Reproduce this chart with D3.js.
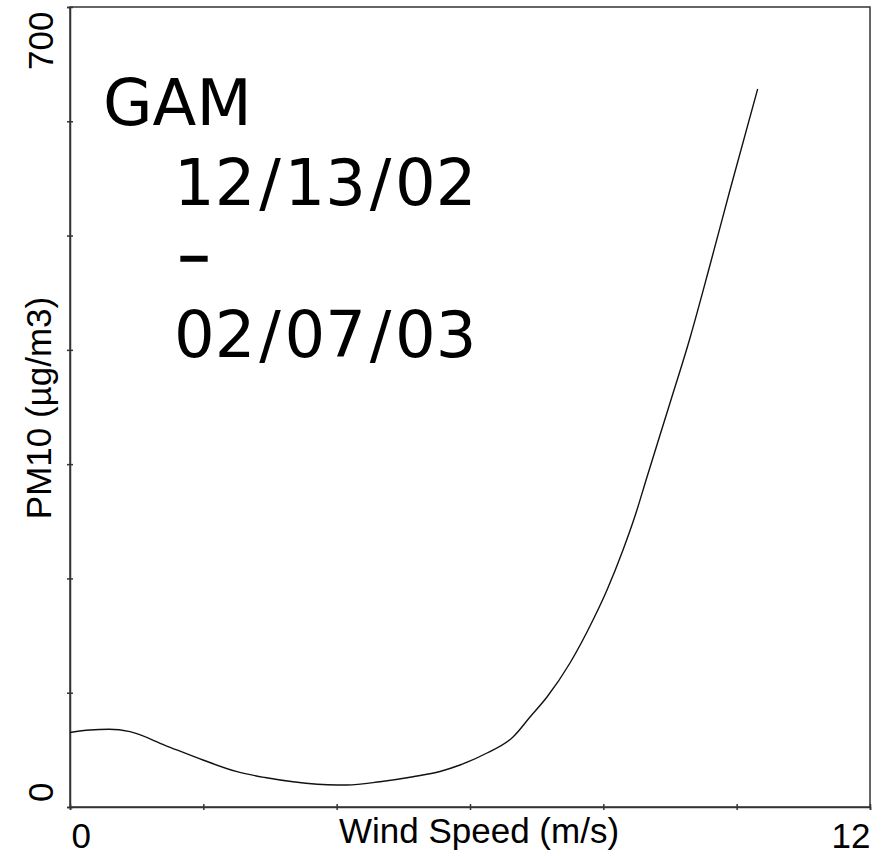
<!DOCTYPE html>
<html>
<head>
<meta charset="utf-8">
<script src="https://cdn.jsdelivr.net/npm/d3@7"></script>
<style>
  html, body { margin: 0; padding: 0; background: #fff; }
  svg { display: block; }
</style>
</head>
<body>
<svg id="chart" width="888" height="856"></svg>
<script>
// GAM smooth of PM10 against wind speed
const windSpeed = [0.0, 0.3, 0.585, 0.9, 1.425, 1.995, 2.505, 2.925, 3.345, 4.005, 4.155, 4.65, 5.145, 5.55, 5.85, 6.255, 6.645, 6.9, 7.155, 7.5, 7.845, 8.055, 8.295, 8.475, 8.655, 9.0, 9.3, 9.6, 9.9, 10.315];
const pm10 =      [65.2, 67.4, 68.0, 65.9, 54.0, 41.1, 30.9, 25.8, 22.1, 19.25, 19.25, 22.1, 26.5, 31.1, 36.75, 47.25, 61.25, 78.75, 96.25, 126, 163.6, 189.9, 224.9, 254.6, 288.75, 353.5, 410.4, 474.25, 539.9, 628.25];

const xTicks = [0, 2, 4, 6, 8, 10, 12];
const yTicks = [0, 100, 200, 300, 400, 500, 600, 700];
const xDomain = [0, 12];
const yDomain = [0, 700];
const xTitle = "Wind Speed (m/s)";
const yTitle = "PM10 (\u00b5g/m3)";
const noteLines = ["GAM", "12/13/02", "\u2013", "02/07/03"];

const svg = d3.select("#chart");
const plotL = 70, plotR = 870, plotT = 7, plotB = 807;

const x = d3.scaleLinear().domain(xDomain).range([plotL, plotR]);
const y = d3.scaleLinear().domain(yDomain).range([plotB, plotT]);

const axisFont = "'Liberation Sans', Arial, sans-serif";
const ink = "#333";

// frame
svg.append("rect")
  .attr("x", plotL).attr("y", plotT)
  .attr("width", plotR - plotL).attr("height", plotB - plotT)
  .attr("fill", "none").attr("stroke", ink).attr("stroke-width", 1.5);

// x axis: ticks straddle the axis line, only the end values are labelled
const xAxis = svg.append("g")
  .attr("transform", `translate(0,${plotB})`)
  .call(d3.axisBottom(x).tickValues(xTicks).tickSize(3)
    .tickFormat(d => (d === xDomain[0] || d === xDomain[1]) ? d : ""));
xAxis.select(".domain").attr("stroke", ink).attr("stroke-width", 1.5);
xAxis.selectAll(".tick line").attr("y1", -3).attr("y2", 3).attr("stroke", ink).attr("stroke-width", 1.5);
xAxis.selectAll(".tick text")
  .attr("font-family", axisFont).attr("font-size", 35).attr("fill", "#000")
  .attr("y", 41).attr("dy", 0)
  .attr("text-anchor", d => d === xDomain[0] ? "start" : (d === xDomain[1] ? "end" : "middle"))
  .attr("dx", d => d === xDomain[0] ? 1 : (d === xDomain[1] ? 0 : 0));

// y axis
const yAxis = svg.append("g")
  .attr("transform", `translate(${plotL},0)`)
  .call(d3.axisLeft(y).tickValues(yTicks).tickSize(3)
    .tickFormat(d => (d === yDomain[0] || d === yDomain[1]) ? d : ""));
yAxis.select(".domain").attr("stroke", ink).attr("stroke-width", 1.5);
yAxis.selectAll(".tick line").attr("x1", -3).attr("x2", 3).attr("stroke", ink).attr("stroke-width", 1.5);
yAxis.selectAll(".tick text")
  .attr("font-family", axisFont).attr("font-size", 35).attr("fill", "#000")
  .attr("x", 0).attr("y", 0).attr("dy", 0)
  .attr("transform", "translate(-17,0) rotate(-90)")
  .attr("text-anchor", d => d === yDomain[0] ? "start" : "end")
  .attr("dx", d => d === yDomain[0] ? 5.5 : -4);

// axis titles
svg.append("text")
  .attr("x", 479).attr("y", 843)
  .attr("text-anchor", "middle")
  .attr("font-family", axisFont).attr("font-size", 35)
  .text(xTitle);

svg.append("text")
  .attr("transform", `translate(51,${(plotT + plotB) / 2 + 1}) rotate(-90)`)
  .attr("text-anchor", "middle")
  .attr("font-family", axisFont).attr("font-size", 35)
  .text(yTitle);

// fitted curve
const pts = windSpeed.map((w, i) => [w, pm10[i]]);
svg.append("path")
  .datum(pts)
  .attr("fill", "none").attr("stroke", "#111").attr("stroke-width", 1.4)
  .attr("d", d3.line().x(d => x(d[0])).y(d => y(d[1])).curve(d3.curveMonotoneX));

// annotation block; slashes get a little extra room on both sides
const note = svg.append("text")
  .attr("font-family", "'DejaVu Sans', Verdana, sans-serif")
  .attr("font-size", 64).attr("fill", "#000");
const noteX = [103, 174, 178, 174];
const noteY = [125, 205, 276, 357];
const slashPad = 3.75;
noteLines.forEach((t, i) => {
  const parts = t.split("/");
  parts.forEach((p, j) => {
    if (j > 0) {
      note.append("tspan").attr("dx", slashPad).text("/");
    }
    const ts = note.append("tspan").text(p);
    if (j === 0) ts.attr("x", noteX[i]).attr("y", noteY[i]);
    else ts.attr("dx", slashPad);
    if (t === "\u2013") ts.attr("stroke", "#000").attr("stroke-width", 1.6);
  });
});
</script>
</body>
</html>
